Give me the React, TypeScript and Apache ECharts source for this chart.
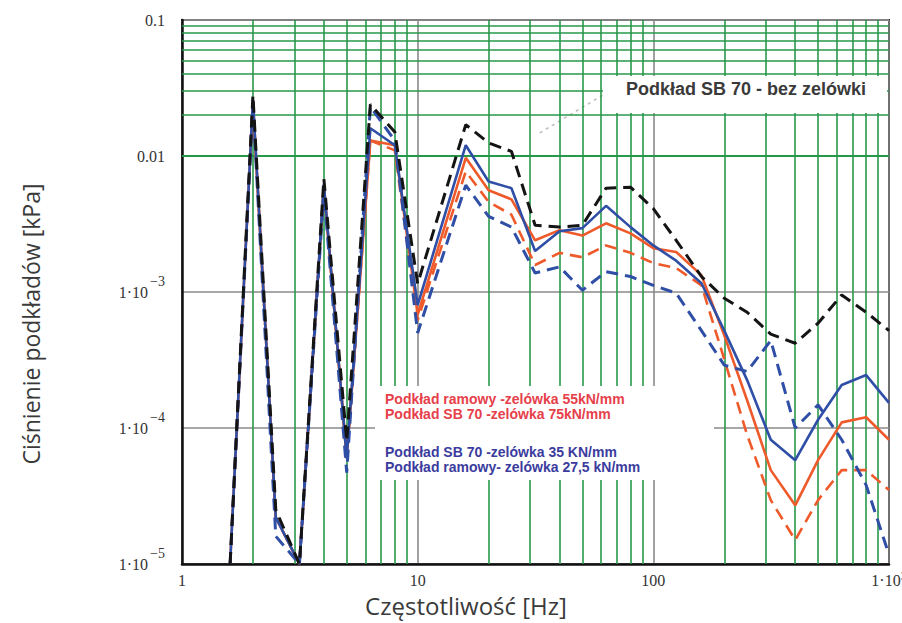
import React, { useEffect, useRef } from "react";
import * as echarts from "echarts";

// 1/3-octave band centre frequencies [Hz]
const frequencies = [1.6, 2, 2.5, 3.15, 4, 5, 6.3, 8, 10, 16, 20, 25, 31.5, 40, 50, 63, 80, 100, 125, 160, 200, 250, 315, 400, 500, 630, 800, 1000];

// Podkład SB 70 - bez zelówki (black dashed)
const sb70NoPad = [1.0e-5, 0.028, 2.5e-5, 1.0e-5, 6.8e-3, 8e-5, 0.024, 0.015, 1.15e-3, 0.017, 0.0125, 0.0108, 3.1e-3, 3.0e-3, 3.1e-3, 5.8e-3, 5.9e-3, 4.1e-3, 2.4e-3, 1.3e-3, 9.0e-4, 7.1e-4, 4.9e-4, 4.2e-4, 5.9e-4, 9.5e-4, 7.1e-4, 5.2e-4];
// Podkład SB 70 - zelówka 35 kN/mm (blue solid)
const sb70Pad35 = [1.0e-5, 0.026, 2.2e-5, 1.0e-5, 6.2e-3, 6e-5, 0.016, 0.012, 8.0e-4, 0.012, 6.5e-3, 5.8e-3, 2.0e-3, 2.8e-3, 2.95e-3, 4.3e-3, 3.0e-3, 2.2e-3, 1.7e-3, 1.16e-3, 5.2e-4, 2.25e-4, 8.2e-5, 5.8e-5, 1.15e-4, 2.07e-4, 2.45e-4, 1.53e-4];
// Podkład ramowy - zelówka 27,5 kN/mm (blue dashed)
const frameDPad275 = [1.0e-5, 0.024, 1.6e-5, 1.0e-5, 5.5e-3, 4.7e-5, 0.023, 0.013, 5.0e-4, 6.1e-3, 3.6e-3, 3.0e-3, 1.38e-3, 1.53e-3, 1.03e-3, 1.41e-3, 1.3e-3, 1.12e-3, 9.8e-4, 5.2e-4, 2.9e-4, 2.6e-4, 4.4e-4, 1.0e-4, 1.48e-4, 8.2e-5, 3.8e-5, 1.17e-5];
// Podkład SB 70 - zelówka 75 kN/mm (red solid)
const sb70Pad75 = [1.0e-5, 0.025, 2.2e-5, 1.0e-5, 6.0e-3, 6e-5, 0.013, 0.012, 6.8e-4, 9.7e-3, 5.6e-3, 4.8e-3, 2.4e-3, 2.85e-3, 2.6e-3, 3.2e-3, 2.7e-3, 2.1e-3, 1.97e-3, 1.33e-3, 4.8e-4, 1.6e-4, 4.9e-5, 2.7e-5, 5.8e-5, 1.1e-4, 1.2e-4, 8.2e-5];
// Podkład ramowy - zelówka 55 kN/mm (red dashed)
const framePad55 = [1.0e-5, 0.025, 2.2e-5, 1.0e-5, 6.0e-3, 6e-5, 0.013, 0.011, 6.2e-4, 7.7e-3, 4.6e-3, 3.7e-3, 1.58e-3, 1.94e-3, 1.8e-3, 2.2e-3, 1.94e-3, 1.63e-3, 1.5e-3, 1.12e-3, 3.2e-4, 8.9e-5, 2.95e-5, 1.5e-5, 2.95e-5, 4.9e-5, 4.9e-5, 3.5e-5];

// faint annotation leader line (box "bez zelówki")
const leaderX = [33, 61];
const leaderY = [0.0148, 0.028];

// axis ticks and labels ([base, superscript])
const xTicks = [1, 10, 100, 1000];
const xTickLabels = [["1", ""], ["10", ""], ["100", ""], ["1·10", "3"]];
const yTicks = [1e-5, 1e-4, 1e-3, 0.01, 0.1];
const yTickLabels = [["1·10", "−5"], ["1·10", "−4"], ["1·10", "−3"], ["0.01", ""], ["0.1", ""]];

// log-grid minor lines
const minorGridX = [2, 3, 4, 5, 6, 7, 8, 9, 20, 30, 40, 50, 60, 70, 80, 90, 200, 300, 400, 500, 600, 700, 800, 900];
const minorGridY = [2e-5, 3e-5, 4e-5, 5e-5, 6e-5, 7e-5, 8e-5, 9e-5, 2e-4, 3e-4, 4e-4, 5e-4, 6e-4, 7e-4, 8e-4, 9e-4, 2e-3, 3e-3, 4e-3, 5e-3, 6e-3, 7e-3, 8e-3, 9e-3, 0.02, 0.03, 0.04, 0.05, 0.06, 0.07, 0.08, 0.09];

const xTitle = "Częstotliwość [Hz]";
const yTitle = "Ciśnienie podkładów [kPa]";
const legendTop = "Podkład SB 70 - bez zelówki";
const legendRed = ["Podkład ramowy -zelówka 55kN/mm", "Podkład SB 70 -zelówka 75kN/mm"];
const legendBlue = ["Podkład SB 70 -zelówka 35 KN/mm", "Podkład ramowy- zelówka 27,5 kN/mm"];

const BLACK = "#141414";
const BLUE = "#2f4ea6";
const RED = "#ef5a2b";
const GREEN = "#27994a";

function pairs(values: number[]) {
  return frequencies.map((f, i) => [f, values[i]]);
}

function findLabel(v: number, ticks: number[], labels: string[][]) {
  const lv = Math.log10(v);
  for (let i = 0; i < ticks.length; i++) {
    if (Math.abs(Math.log10(ticks[i]) - lv) < 1e-6) {
      const [b, s] = labels[i];
      return s ? `{b|${b}}{s|${s}}` : `{b|${b}}`;
    }
  }
  return "";
}

export default function App() {
  const ref = useRef<HTMLDivElement>(null);
  useEffect(() => {
    if (!ref.current) return;
    const chart = echarts.init(ref.current, null, { renderer: "svg" });
    const labelFont = "'Liberation Serif', serif";
    const option: any = {
      animation: false,
      backgroundColor: "#ffffff",
      grid: {
        left: 182,
        right: 13,
        top: 20,
        bottom: 59,
        show: true,
        backgroundColor: "#ffffff",
        borderColor: "#111",
        borderWidth: 2,
        outerBoundsMode: "none",
      },
      xAxis: {
        type: "log",
        logBase: 10,
        min: 1,
        max: 1000,
        axisLine: { show: true, lineStyle: { color: "#111", width: 2.5 } },
        axisTick: { show: false },
        splitLine: { show: true, lineStyle: { color: "#8a8a8a", width: 1.6 } },
        axisLabel: {
          margin: 6,
          showMinLabel: true,
          showMaxLabel: true,
          hideOverlap: false,
          formatter: (v: number) => findLabel(v, xTicks, xTickLabels),
          rich: {
            b: { fontFamily: labelFont, fontSize: 16, color: "#333", lineHeight: 20, verticalAlign: "middle" },
            s: { fontFamily: labelFont, fontSize: 12, color: "#333", padding: [0, 0, 8, 0], verticalAlign: "middle" },
          },
        },
      },
      yAxis: {
        type: "log",
        logBase: 10,
        min: 1e-5,
        max: 0.1,
        axisLine: { show: true, lineStyle: { color: "#111", width: 2.5 } },
        axisTick: { show: false },
        splitLine: { show: true, lineStyle: { color: "#8a8a8a", width: 1.6 } },
        axisLabel: {
          margin: 17,
          showMinLabel: true,
          showMaxLabel: true,
          hideOverlap: false,
          formatter: (v: number) => findLabel(v, yTicks, yTickLabels),
          rich: {
            b: { fontFamily: labelFont, fontSize: 16, color: "#333", verticalAlign: "middle" },
            s: { fontFamily: labelFont, fontSize: 14, color: "#333", padding: [0, 0, 22, 2], verticalAlign: "middle" },
          },
        },
      },
      series: [
        {
          name: "grid",
          type: "line",
          data: [],
          z: 1,
          silent: true,
          markLine: {
            silent: true,
            symbol: ["none", "none"],
            label: { show: false },
            animation: false,
            lineStyle: { color: GREEN, width: 1.6, type: "solid" },
            emphasis: { disabled: true },
            data: [
              ...minorGridX.map((v) => ({ xAxis: v })),
              ...minorGridY.map((v) => ({ yAxis: v })),
            ],
          },
        },
        {
          name: "leader",
          type: "line",
          z: 3,
          silent: true,
          symbol: "none",
          data: leaderX.map((x, i) => [x, leaderY[i]]),
          lineStyle: { color: "#bbbbbb", width: 1.5, type: [3, 4] },
        },
        {
          name: legendRed[0],
          type: "line",
          z: 5,
          symbol: "none",
          data: pairs(framePad55),
          lineStyle: { color: RED, width: 2.6, type: [12, 7] },
        },
        {
          name: legendRed[1],
          type: "line",
          z: 5,
          symbol: "none",
          data: pairs(sb70Pad75),
          lineStyle: { color: RED, width: 2.6 },
        },
        {
          name: legendBlue[0],
          type: "line",
          z: 6,
          symbol: "none",
          data: pairs(sb70Pad35),
          lineStyle: { color: BLUE, width: 2.6 },
        },
        {
          name: legendBlue[1],
          type: "line",
          z: 6,
          symbol: "none",
          data: pairs(frameDPad275),
          lineStyle: { color: BLUE, width: 3, type: [12, 7] },
        },
        {
          name: legendTop,
          type: "line",
          z: 7,
          symbol: "none",
          data: pairs(sb70NoPad),
          lineStyle: { color: BLACK, width: 3, type: [12, 7] },
        },
      ],
      graphic: [
        {
          type: "rect",
          z: 100,
          shape: { x: 603, y: 76, width: 284, height: 37 },
          style: { fill: "#ffffff" },
        },
        {
          type: "text",
          z: 101,
          x: 746,
          y: 89,
          style: {
            text: legendTop,
            fill: "#3a3a3a",
            font: "bold 18px 'Liberation Sans', Arial, sans-serif",
            align: "center",
            verticalAlign: "middle",
          },
        },
        {
          type: "rect",
          z: 100,
          shape: { x: 375, y: 386, width: 339, height: 94 },
          style: { fill: "#ffffff" },
        },
        ...legendRed.map((t, i) => ({
          type: "text",
          z: 101,
          x: 385,
          y: 399 + i * 15,
          style: {
            text: t,
            fill: "#e6404a",
            font: "bold 14px 'Liberation Sans', Arial, sans-serif",
            align: "left",
            verticalAlign: "middle",
          },
        })),
        ...legendBlue.map((t, i) => ({
          type: "text",
          z: 101,
          x: 385,
          y: 452 + i * 15,
          style: {
            text: t,
            fill: "#3b3c9e",
            font: "bold 14px 'Liberation Sans', Arial, sans-serif",
            align: "left",
            verticalAlign: "middle",
          },
        })),
        {
          type: "text",
          z: 101,
          x: 466,
          y: 605,
          style: {
            text: xTitle,
            fill: "#3a3a3a",
            font: "24px 'Open Sans', sans-serif",
            align: "center",
            verticalAlign: "middle",
          },
        },
        {
          type: "text",
          z: 101,
          x: 31,
          y: 324,
          rotation: Math.PI / 2,
          style: {
            text: yTitle,
            fill: "#3a3a3a",
            font: "23px 'Open Sans', sans-serif",
            align: "center",
            verticalAlign: "middle",
          },
        },
      ],
    };
    chart.setOption(option);
    return () => chart.dispose();
  }, []);
  return (
    <div
      ref={ref}
      style={{ position: "absolute", left: 0, top: 0, width: 902, height: 623, background: "#fff" }}
    />
  );
}
